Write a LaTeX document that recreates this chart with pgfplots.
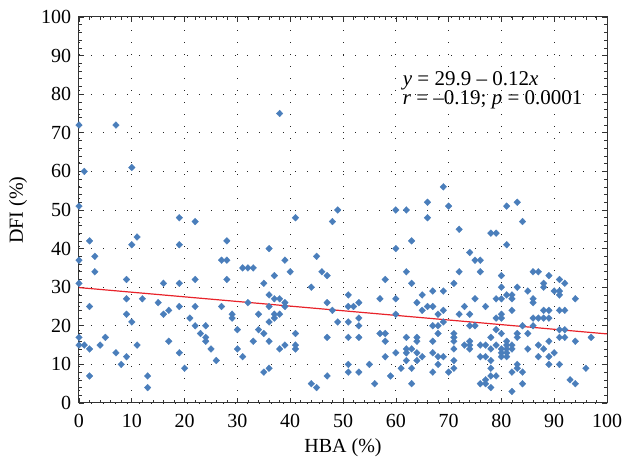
\documentclass[border=0pt]{standalone}
\usepackage{pgfplots}
\pgfplotsset{compat=1.18}
\usepackage{pgfplotstable}
\usepackage{fontspec}
\setmainfont{Liberation Serif}
\definecolor{markblue}{HTML}{4A7EBB}
\definecolor{fitred}{HTML}{E8232A}

% HBA (%) vs DFI (%)
\pgfplotstableread{
hba dfi
0 72
7 72
38 75
1 60
10 61
0 51
19 48
22 47
2 42
11 43
10 41
19 41
0 37
3 38
3 34
0 31
9 32
16 31
19 31
22 32
2 25
9 27
12 27
15 26
19 25
22 25
9 23
10 21
16 23
17 24
21 22
22 20
24 20
23 18
24 17
24 16
25 14
0 17
0 15
1 15
2 14
4 15
5 17
7 13
9 12
8 10
11 15
17 16
19 13
20 9
2 7
13 7
13 4
41 48
48 47
49 50
28 42
36 40
27 37
28 37
31 35
32 35
33 35
39 37
45 38
40 34
28 32
37 33
35 31
46 34
47 33
44 30
36 28
37 27
38 27
39 26
32 26
27 25
36 25
39 25
47 26
48 24
29 23
29 22
34 23
37 23
38 23
37 22
36 21
49 21
30 19
34 19
35 18
41 18
26 11
30 14
31 12
33 16
36 16
38 14
39 15
41 15
41 14
47 17
36 9
35 8
44 5
45 4
47 7
60 50
62 50
66 52
69 56
70 51
66 48
72 45
63 42
60 40
74 39
62 34
72 34
58 32
63 31
71 31
51 28
57 27
60 27
65 28
67 29
69 29
51 25
52 25
53 26
64 26
66 25
67 25
65 24
69 24
73 25
60 23
68 23
72 23
74 23
51 21
53 22
53 20
69 21
67 20
68 20
74 20
68 18
71 18
71 17
51 17
53 17
57 18
58 18
58 16
62 17
64 17
64 16
67 16
71 16
73 15
74 16
58 12
60 13
62 14
62 13
63 14
64 13
65 12
67 13
68 12
69 12
71 14
62 11
64 11
68 10
71 11
51 10
51 8
53 8
55 10
61 9
63 9
67 8
70 8
71 9
59 7
56 5
63 5
81 51
83 52
84 47
78 44
79 44
81 41
75 37
76 37
76 34
86 34
87 34
80 33
89 33
91 32
92 31
88 31
88 30
80 30
83 30
85 29
90 29
91 29
91 28
81 28
82 28
75 27
79 27
80 27
82 27
86 27
86 26
94 27
77 25
82 24
88 24
89 24
91 24
92 24
79 22
80 23
80 22
86 22
87 22
88 22
89 22
75 20
84 20
86 20
91 19
92 19
79 19
80 18
83 18
83 17
85 18
78 17
91 17
92 17
97 17
89 16
94 16
74 15
74 14
76 15
77 15
79 15
81 16
81 15
82 15
80 14
81 14
82 14
78 14
85 14
87 15
88 14
90 13
80 13
81 13
76 12
77 12
80 12
81 12
87 12
89 12
78 11
83 10
83 9
78 9
89 10
91 10
96 9
82 8
84 8
79 7
78 7
76 5
77 6
77 5
78 4
84 5
82 3
93 6
94 5
}\scatterdata

\begin{document}
\fontsize{20}{23}\selectfont
\begin{tikzpicture}
\useasboundingbox (-79pt,-62pt) rectangle (543pt,403pt);
\begin{axis}[
    scale only axis,
    width=528pt, height=386pt,
    xmin=0, xmax=100, ymin=0, ymax=100,
    xtick={0,10,...,100}, ytick={0,10,...,100},
    minor tick num=4,
    tick align=inside,
    major tick length=5pt, minor tick length=3pt,
    grid=major,
    major grid style={black!85, line width=0.7pt, dash pattern=on 0.8pt off 11.2pt},
    axis line style={black!80, line width=1pt},
    tick style={black!80, line width=0.6pt},
    /pgf/number format/assume math mode=true,
    ticklabel style={font=\fontsize{20}{23}\selectfont},
    xticklabel style={yshift=-4pt},
    yticklabel style={xshift=-1pt},
    xlabel={HBA (\%)}, ylabel={DFI (\%)},
    label style={font=\fontsize{20}{23}\selectfont},
    xlabel style={at={(axis description cs:0.5,-0.115)}, anchor=center},
    ylabel style={at={(axis description cs:-0.1155,0.5)}, anchor=center},
    clip=false,
]
\addplot[only marks, mark=diamond*, mark size=3.4pt,
    mark options={fill=markblue, draw=markblue, line width=0.3pt, xscale=1.3}]
    table[x=hba, y=dfi] {\scatterdata};
\addplot[fitred, line width=1.2pt, no marks] coordinates {(0,29.9) (100,17.9)};
\node[anchor=north west, align=left, inner sep=0pt,
    font=\fontsize{21}{19}\selectfont]
    at (axis cs:61.3,85.8)
    {\textit{y} = 29.9 – 0.12\textit{x}\\ \textit{r} = –0.19; \textit{p} = 0.0001};
\end{axis}
\end{tikzpicture}
\end{document}
